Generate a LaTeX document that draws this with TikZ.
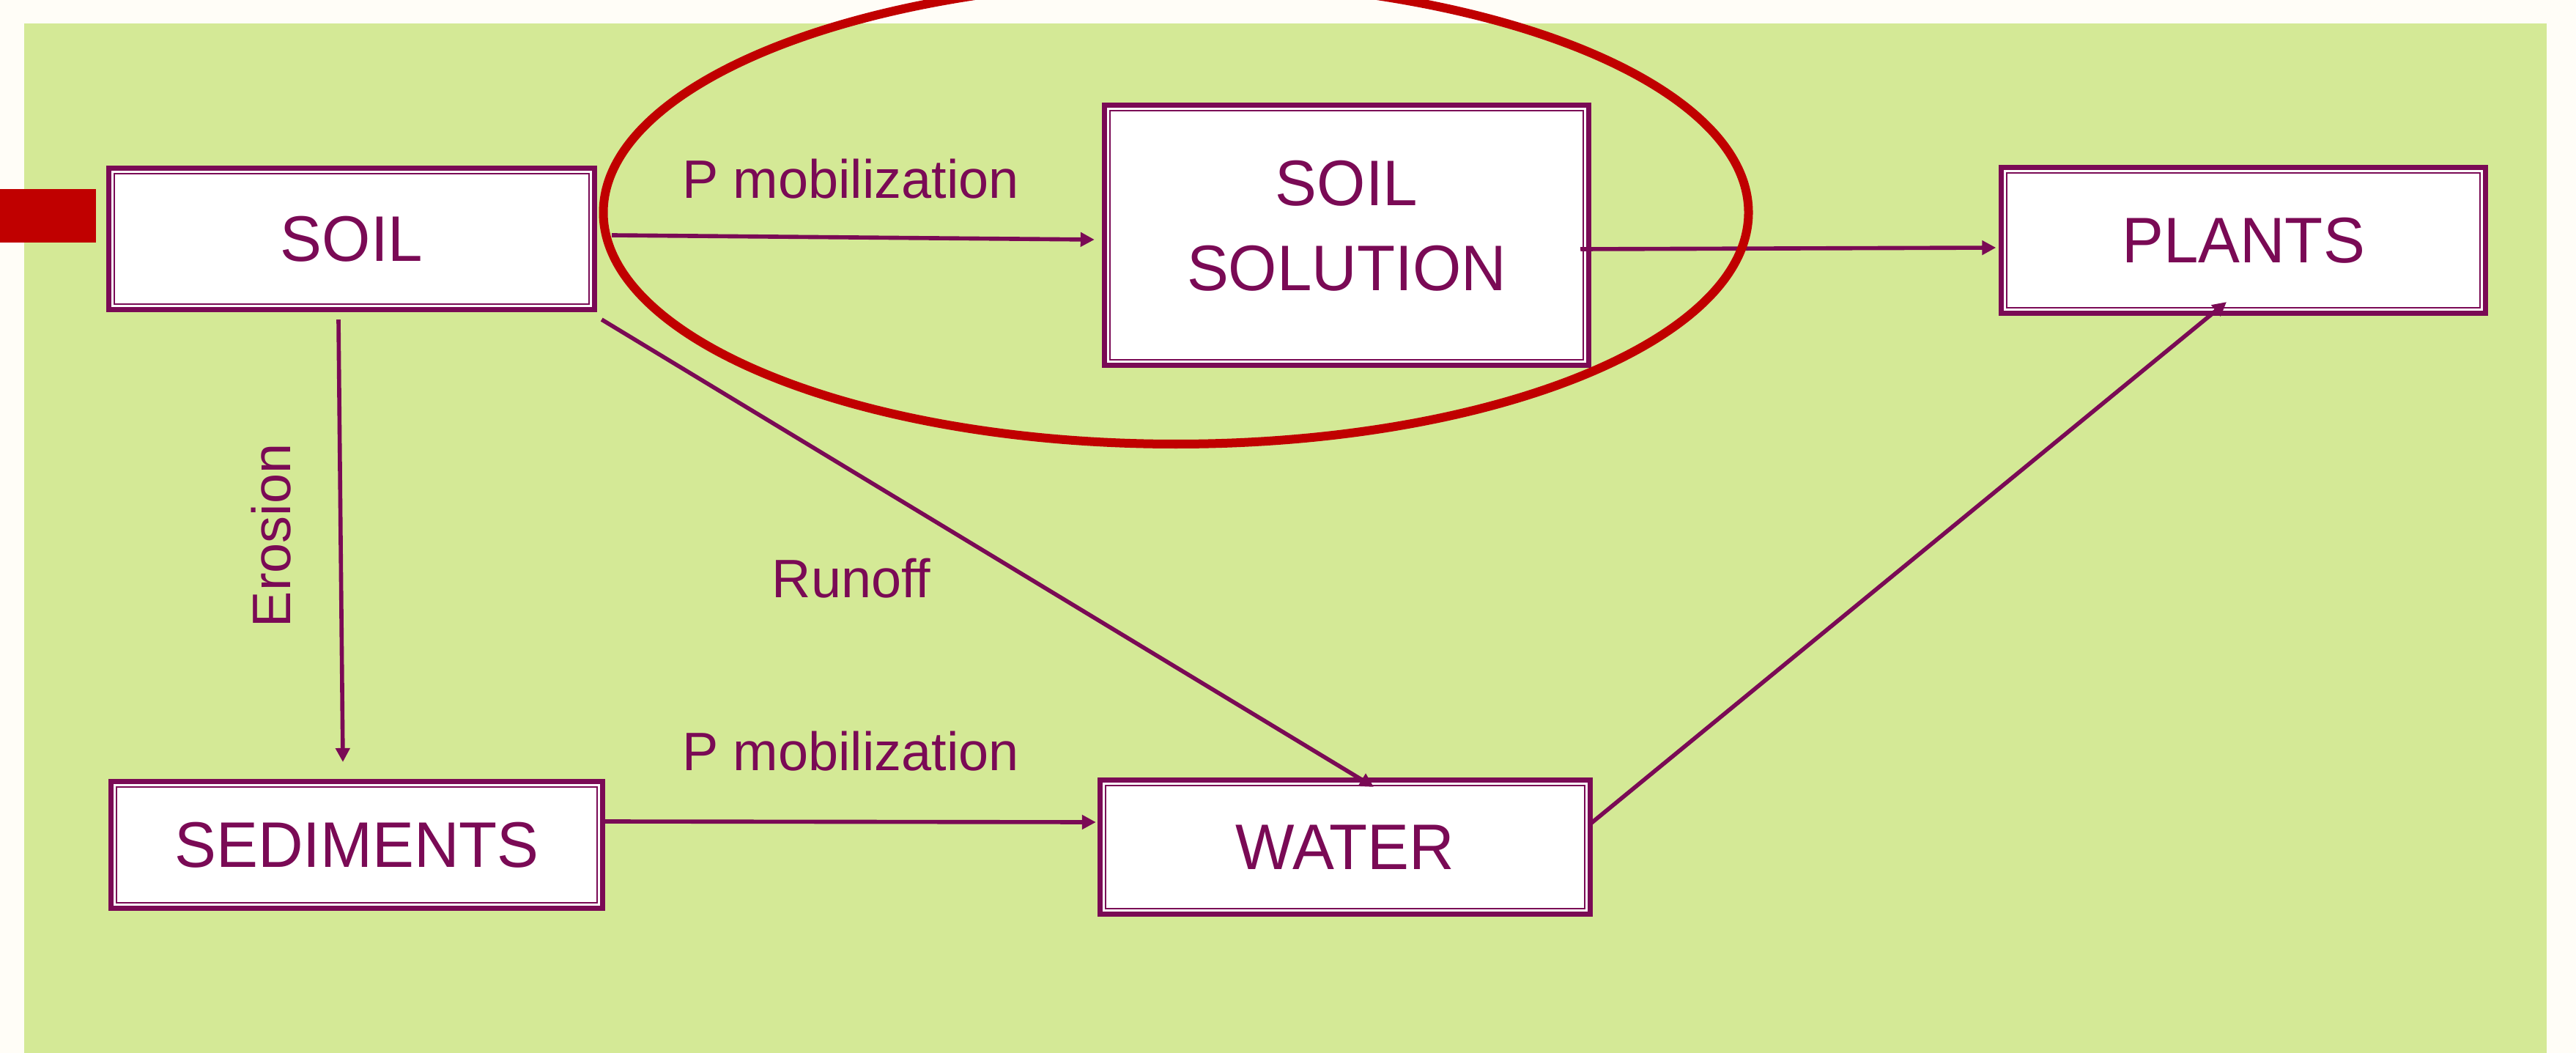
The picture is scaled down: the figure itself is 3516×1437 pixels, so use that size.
\documentclass[tikz,border=0pt]{standalone}
\usepackage{fontspec}
\setmainfont{Liberation Sans}
\newfontfamily\boxfont[FakeStretch=0.97]{Liberation Sans}
\usetikzlibrary{arrows.meta}
\definecolor{plum}{HTML}{7A0A55}
\definecolor{leaf}{HTML}{D4E996}
\definecolor{cream}{HTML}{FFFDF7}
\definecolor{brick}{HTML}{C00000}
\tikzset{
  pool/.style={draw=plum,line width=2pt,fill=white,inner sep=0pt,text=plum,align=center,
    font=\boxfont\fontsize{25}{33}\selectfont,
    path picture={\draw[plum,line width=0.6pt] ([shift={(0.075cm,0.075cm)}]path picture bounding box.south west) rectangle ([shift={(-0.075cm,-0.075cm)}]path picture bounding box.north east);}},
  flow/.style={plum,line width=1.6pt,-{Triangle[length=1.9mm,width=1.9mm]}},
  tag/.style={text=plum,font=\fontsize{21}{25}\selectfont,inner sep=0pt}
}
\begin{document}
\begin{tikzpicture}[x=0.01cm,y=-0.01cm]
\useasboundingbox (0,0) rectangle (3516,1437);
\clip (0,0) rectangle (3516,1437);
\fill[cream] (0,0) rectangle (3516,1437);
\fill[leaf] (33,32) rectangle (3476,1437);
\fill[brick] (0,258) rectangle (131,331);
\foreach \x/\y/\w/\h/\name/\txt in {480/326/6.63/1.93/soil/SOIL,1838/321/6.61/3.54/solution/{SOIL\\SOLUTION\rule[-0.26cm]{0pt}{0pt}},3062/328/6.60/1.99/plants/PLANTS,487/1153/6.70/1.73/sediments/SEDIMENTS,1836/1156/6.69/1.83/water/WATER}
{
\node[pool,minimum width=\w cm,minimum height=\h cm] (\name) at (\x,\y) {\txt};
}
\draw[flow] ([shift={(20,-5)}]soil.east) -- ([shift={(-10,6)}]solution.west);
\draw[flow] ([shift={(-15,19)}]solution.east) -- ([shift={(-4,10)}]plants.west);
\draw[flow] ([shift={(-18,10)}]soil.south) -- ([shift={(-19,-23)}]sediments.north);
\draw[flow] ([shift={(6,10)}]soil.south east) -- ([shift={(39,13)}]water.north);
\draw[flow] ([shift={(-2,-32)}]sediments.east) -- ([shift={(-2,-34)}]water.west);
\draw[flow] ([shift={(-2,-33)}]water.east) -- ([shift={(-23,-19)}]plants.south);
\node[tag,anchor=base] (mobtop) at (1161,271) {P mobilization};
\node[tag,anchor=base] (mobbot) at (1161,1051) {P mobilization};
\node[tag,anchor=base] (runoff) at (1162,815) {Runoff};
\node[tag,rotate=90] (erosion) at (370,731) {Erosion};
\draw[brick,line width=0.12cm] (1605,290) ellipse [x radius=781.5,y radius=316];
\end{tikzpicture}
\end{document}
